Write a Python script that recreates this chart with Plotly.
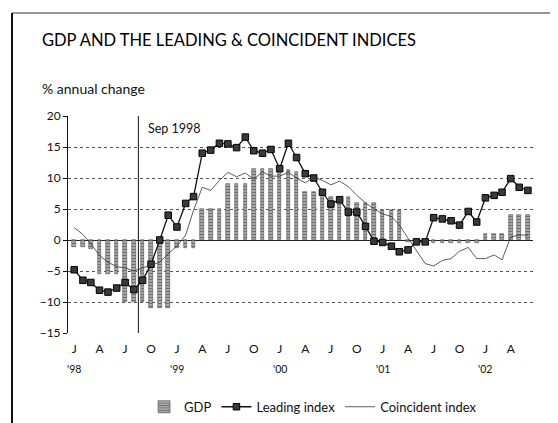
import plotly.graph_objects as go
import pandas as pd

# ---- data (monthly, Jan 1998 - Jun 2002) ----
months = pd.date_range("1998-01-01", periods=54, freq="MS")

gdp = [-1.2, -1.2, -1.5, -5.5, -5.5, -5.5, -10, -10, -10, -11, -11, -11,
       -1.3, -1.3, -1.3, 5, 5, 5, 9, 9, 9, 11.5, 11.5, 11.5,
       11.3, 11.3, 11.0, 7.8, 7.8, 7.8, 7.0, 7.0, 7.0, 5.9, 5.9, 5.9,
       4.8, 4.8, 4.8, -0.4, -0.4, -0.4, -0.5, -0.5, -0.5, -0.5, -0.5, -0.5,
       1.0, 1.0, 1.0, 4.0, 4.0, 4.0]

leading = [-4.8, -6.5, -6.85, -8.1, -8.4, -7.75, -6.85, -8.0, -6.5, -3.9, 0.0, 4.0, 2.1, 5.9, 7.0,
           14.0, 14.5, 15.6, 15.5, 14.9, 16.6, 14.4, 14.0, 14.6, 11.5, 15.6, 13.3, 10.7, 10.0,
           7.7, 5.8, 6.5, 4.5, 4.5, 2.2, -0.2, -0.4, -1.0, -1.9, -1.6, -0.3, -0.3,
           3.6, 3.4, 3.1, 2.4, 4.6, 2.9, 6.8, 7.2, 7.7, 9.9, 8.5, 8.0]

coincident = [2.0, 0.9, -0.6, -2.5, -3.6, -4.3, -4.5, -5.0, -4.5, -4.0, -3.6, -2.2, -1.0, 0.8, 4.8,
              8.5, 8.0, 9.6, 10.9, 10.2, 10.8, 9.8, 11.0, 10.3, 10.3, 10.9, 10.0, 9.2, 10.2,
              9.6, 8.9, 9.5, 8.6, 7.2, 6.0, 5.0, 4.2, 3.8, 2.4, 0.3, -1.8, -3.8,
              -4.2, -3.3, -3.0, -1.8, -1.2, -3.0, -3.0, -2.4, -3.2, 0.5, 0.8, 0.8]

tick_dates = pd.date_range("1998-01-01", "2002-04-01", freq="QS")
tick_text = ["J", "A", "J", "O"] * 4 + ["J", "A"]
year_dates = ["1998-01-01", "1999-01-01", "2000-01-01", "2001-01-01", "2002-01-01"]
year_text = ["'98", "'99", "'00", "'01", "'02"]
event_date = "1998-08-17"
event_text = "Sep 1998"

FONT = "Lato, Open Sans, sans-serif"
INK = "#111111"

fig = go.Figure()
fig.add_trace(go.Bar(
    x=months, y=gdp, name="GDP",
    width=0.42 * 30.4 * 86400000,
    marker=dict(color="#8a8a8a", line=dict(color="#505050", width=0.6),
                pattern=dict(shape="-", fgcolor="#1e1e1e", bgcolor="#bdbdbd", size=3, solidity=0.5)),
))
fig.add_trace(go.Scatter(
    x=months, y=leading, name="Leading index", mode="lines+markers",
    line=dict(color=INK, width=1.3),
    marker=dict(symbol="square", size=6.5, color="#3a3a3a", line=dict(color="#000", width=1)),
))
fig.add_trace(go.Scatter(
    x=months, y=coincident, name="Coincident index", mode="lines",
    line=dict(color="#333333", width=0.8),
))

# event line
fig.add_shape(type="line", xref="x", yref="y", x0=event_date, x1=event_date, y0=-15, y1=20,
              line=dict(color=INK, width=1))
fig.add_annotation(x="1998-09-12", y=18.0, xref="x", yref="y", text=event_text, showarrow=False,
                   xanchor="left", yanchor="middle", font=dict(family=FONT, size=12.5, color=INK))

# year labels
for d, t in zip(year_dates, year_text):
    fig.add_annotation(x=d, y=-0.166, xref="x", yref="paper", text=t, showarrow=False,
                       xanchor="center", yanchor="middle", font=dict(family=FONT, size=10.5, color=INK))

# title & unit
fig.add_annotation(x=-0.06, y=1.35, xref="paper", yref="paper", text="GDP AND THE LEADING &amp; COINCIDENT INDICES",
                   showarrow=False, xanchor="left", yanchor="middle",
                   font=dict(family=FONT, size=16.5, color="#000"))
fig.add_annotation(x=-0.06, y=1.129, xref="paper", yref="paper", text="% annual change",
                   showarrow=False, xanchor="left", yanchor="middle",
                   font=dict(family=FONT, size=14, color=INK))

# frame of the scanned page
pw, ph = 465, 217
def px(x):
    return (x - 68) / pw
def py(y):
    return (333 - y) / ph
fig.add_shape(type="line", xref="paper", yref="paper", x0=px(12), x1=px(12), y0=py(13), y1=py(440),
              line=dict(color="#111", width=2))
fig.add_shape(type="line", xref="paper", yref="paper", x0=px(12), x1=px(570), y0=py(13), y1=py(13),
              line=dict(color="#333", width=1.2))

fig.update_layout(
    width=550, height=415,
    margin=dict(l=60, r=25, t=108, b=90, autoexpand=False),
    paper_bgcolor="white", plot_bgcolor="white",
    font=dict(family=FONT, size=12, color=INK),
    showlegend=True,
    legend=dict(orientation="h", x=0.527, y=-0.34, xanchor="center", yanchor="middle",
                font=dict(family=FONT, size=13, color=INK), itemwidth=30,
                bgcolor="rgba(0,0,0,0)"),
    bargap=0,
    xaxis=dict(type="date", range=["1997-12-10", "2002-06-19"],
               tickmode="array", tickvals=tick_dates, ticktext=tick_text,
               showgrid=False, showline=False, ticks="", zeroline=False,
               ticklabelstandoff=7,
               tickfont=dict(family=FONT, size=12, color=INK)),
    yaxis=dict(range=[-15, 20], tickvals=[-15, -10, -5, 0, 5, 10, 15, 20],
               showgrid=True, gridcolor="#555555", gridwidth=0.8, griddash="3px,3px",
               zeroline=True, zerolinecolor="#222", zerolinewidth=1,
               showline=True, linecolor=INK, linewidth=1,
               ticks="outside", ticklen=4, tickcolor=INK,
               tickfont=dict(family=FONT, size=12, color=INK)),
)

fig.write_html("out.html")
